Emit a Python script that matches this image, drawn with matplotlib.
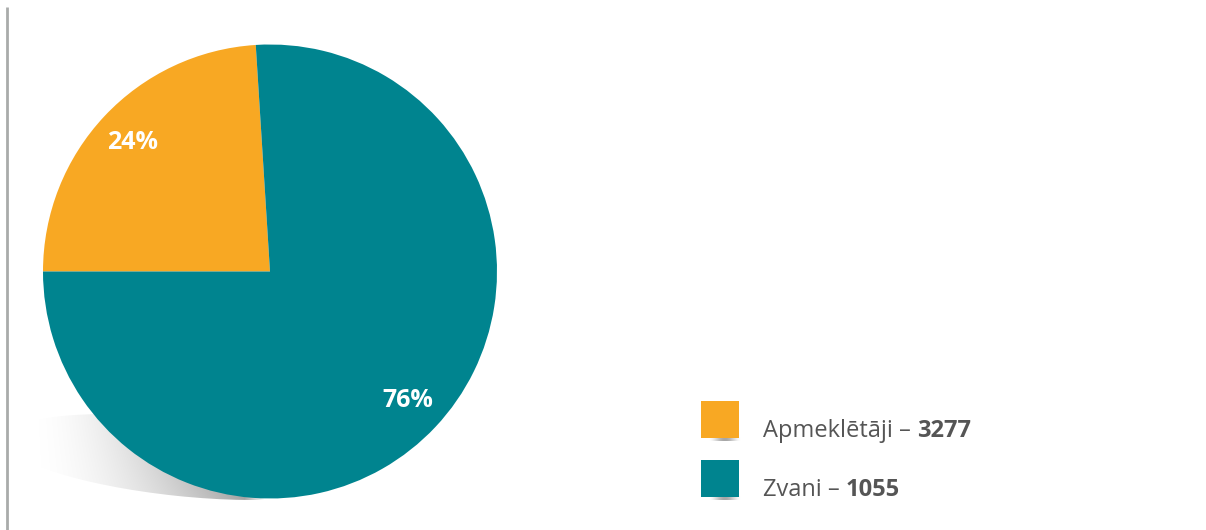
import numpy as np
import matplotlib
matplotlib.use("Agg")
import matplotlib.pyplot as plt
from matplotlib.patches import Ellipse, Rectangle

plt.rcParams['font.family'] = ['Open Sans', 'DejaVu Sans']

categories = ['Apmeklētāji', 'Zvani']
counts = ['3277', '1055']
shares = [24, 76]
colors = ['#F8A823', '#00848F']

W, H = 1206, 530
fig = plt.figure(figsize=(W / 100, H / 100), dpi=100)
ax = fig.add_axes([0, 0, 1, 1])


def py(y):
    # pixel row -> data y (y axis points up)
    return H - y


# soft shadow under the pie
sx = np.linspace(0, 265, 265)
sy = np.linspace(0, 1, 80)
gx, gy = np.meshgrid(sx, sy)
alpha = 0.65 * np.clip((gx - 20) / 225, 0, 1) ** 2.0 * (0.55 + 0.45 * gy)
alpha *= np.clip((265 - gx) / 20, 0, 1)
img = np.zeros(gx.shape + (4,))
img[..., 3] = alpha
shadow = Ellipse((180, py(457)), width=356, height=78, angle=-6,
                 facecolor='none', edgecolor='none')
ax.add_patch(shadow)
im = ax.imshow(img, extent=(0, 265, py(400), py(500)), origin='upper',
               aspect='auto', zorder=1, interpolation='bilinear')
im.set_clip_path(shadow)

wedges, _, autotexts = ax.pie(
    shares, colors=colors, startangle=180, counterclock=False,
    center=(270, py(271.5)), radius=227, autopct='%d%%', pctdistance=0.83,
    textprops=dict(color='white', fontsize=18, fontweight='bold'),
    wedgeprops=dict(linewidth=0, zorder=2))
for t in autotexts:
    t.set_zorder(3)

# left rule
ax.plot([6.5, 6.5], [py(7), py(530)], color='#A9ABAA', lw=2, solid_capstyle='butt')

# legend
lx = np.linspace(0, 1, 40)
lshadow = np.zeros((1, 40, 4))
lshadow[0, :, 3] = 0.35 * np.sin(np.pi * lx) ** 2
for i, (cat, n, c) in enumerate(zip(categories, counts, colors)):
    top = 401 + i * 59
    ax.imshow(lshadow, extent=(708, 742, py(top + 40), py(top + 36)),
              aspect='auto', zorder=2, interpolation='bilinear')
    ax.add_patch(Rectangle((701, py(top + 37)), 38, 37, facecolor=c,
                           edgecolor='none', zorder=3))
    t1 = ax.text(763, py(top + 30), cat + ' \u2013 ', fontsize=17, color='#555555',
                 va='center', ha='left')
    ax.annotate(n, xy=(1, 0.5), xycoords=t1, va='center', ha='left',
                fontsize=17, fontweight='bold', color='#555555')

ax.set_xlim(0, W)
ax.set_ylim(0, H)
ax.set_aspect('auto')
ax.axis('off')

fig.savefig('out.png', dpi=100, facecolor='white')
